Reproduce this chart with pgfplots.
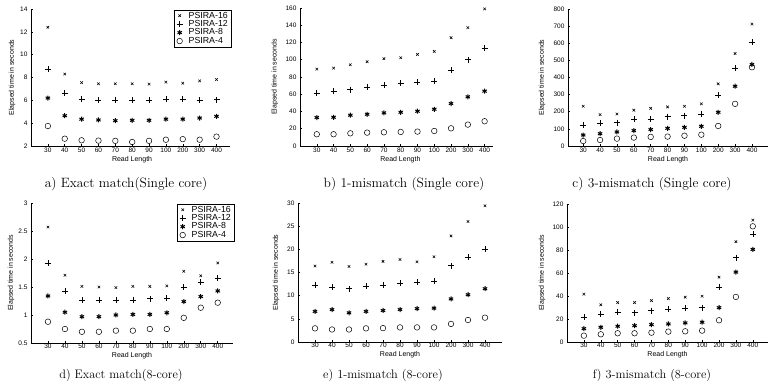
\documentclass[border=0pt]{standalone}
\usepackage{fontspec}
\usepackage{pgfplots}
\pgfplotsset{compat=1.18}
\newfontfamily\arial{Liberation Sans}
\pgfplotsset{
  panel/.style={
    scale only axis, anchor=south west,
    axis x line=bottom, axis y line=left,
    axis line style={-, line width=0.5pt},
    every outer x axis line/.append style={-},
    every outer y axis line/.append style={-},
    tick align=inside, major tick length=2pt,
    tick style={black, line width=0.5pt},
    xtick={1,...,11},
    xticklabels={30,40,50,60,70,80,90,100,200,300,400},
    xmin=0,
    tick label style={font=\arial\fontsize{6.5}{7}\selectfont},
    /pgf/number format/assume math mode=true,
    label style={font=\arial\fontsize{7}{8}\selectfont},
    ylabel={Elapsed time in seconds},
    xlabel={Read Length},
    scaled y ticks=false, clip=false,
    legend cell align=left,
    legend style={draw=black, line width=0.4pt, font=\arial\fontsize{8.8}{9}\selectfont,
      inner xsep=2pt, inner ysep=1pt, row sep=-1.2pt, anchor=north east, at={(rel axis cs:1.005,0.995)},
      nodes={inner sep=1pt}},
  },
  row1/.style={xticklabel style={yshift=2pt},
    xlabel style={at={(axis description cs:#1,0)}, anchor=center, yshift=-13.5pt}},
  row2/.style={xticklabel style={yshift=2.5pt},
    xlabel style={at={(axis description cs:#1,0)}, anchor=center, yshift=-12.5pt}},
  s16/.style={only marks, mark=x, mark size=1.8pt, black, line width=0.55pt},
  s12/.style={only marks, mark=+, mark size=3pt, black, line width=0.6pt},
  s8/.style={only marks, mark=asterisk, mark size=2.5pt, black, line width=1pt},
  s4/.style={only marks, mark=o, mark size=2.8pt, black, line width=0.5pt},
}
\newcommand\legtxt[1]{\hspace{5pt}#1}
\begin{document}
\begin{tikzpicture}[x=1pt,y=1pt]
\useasboundingbox (0,0) rectangle (769,382);
% a) Exact match (Single core)
\begin{axis}[panel, row1=0.508, at={(31pt,236pt)}, width=199pt, height=137pt, xmax=11.8,
  ymin=2, ymax=14, ytick={2,4,...,14},
  ylabel style={at={(axis description cs:-0.095,0.5)}, anchor=center}]
\addplot[s16] coordinates {(1,12.4)(2,8.3)(3,7.55)(4,7.45)(5,7.45)(6,7.45)(7,7.42)(8,7.6)(9,7.5)(10,7.7)(11,7.82)};
\addplot[s12] coordinates {(1,8.73)(2,6.6)(3,6.1)(4,6.0)(5,6.0)(6,6.0)(7,6.0)(8,6.1)(9,6.1)(10,6.0)(11,6.05)};
\addplot[s8] coordinates {(1,6.2)(2,4.65)(3,4.35)(4,4.28)(5,4.22)(6,4.25)(7,4.25)(8,4.35)(9,4.35)(10,4.45)(11,4.6)};
\addplot[s4] coordinates {(1,3.75)(2,2.64)(3,2.5)(4,2.47)(5,2.45)(6,2.35)(7,2.45)(8,2.55)(9,2.6)(10,2.55)(11,2.82)};
\legend{\legtxt{PSIRA-16},\legtxt{PSIRA-12},\legtxt{PSIRA-8},\legtxt{PSIRA-4}}
\end{axis}
% b) 1-mismatch (Single core)
\begin{axis}[panel, row1=0.52, at={(300pt,236pt)}, width=193pt, height=138pt, xmax=11.5,
  ymin=0, ymax=160, ytick={0,20,...,160},
  ylabel style={at={(axis description cs:-0.13,0.5)}, anchor=center}]
\addplot[s16] coordinates {(1,89.1)(2,90.3)(3,94.2)(4,97.7)(5,101.2)(6,102.3)(7,106.2)(8,109.7)(9,125.6)(10,137.2)(11,158.9)};
\addplot[s12] coordinates {(1,61)(2,63.2)(3,65.5)(4,68.2)(5,70.2)(6,72.5)(7,74)(8,75.2)(9,87.6)(10,100)(11,113.2)};
\addplot[s8] coordinates {(1,33)(2,33.3)(3,35.7)(4,36.8)(5,38.4)(6,39.1)(7,40.3)(8,42.6)(9,49.2)(10,57)(11,63.6)};
\addplot[s4] coordinates {(1,13.6)(2,13.6)(3,14.7)(4,15.5)(5,15.9)(6,16.3)(7,16.7)(8,17.4)(9,20.5)(10,24.8)(11,28.7)};
\end{axis}
% c) 3-mismatch (Single core)
\begin{axis}[panel, row1=0.5, at={(568pt,236pt)}, width=200pt, height=137pt, xmin=0.1, xmax=11.95,
  ymin=0, ymax=800, ytick={0,100,...,800},
  ylabel style={at={(axis description cs:-0.13,0.5)}, anchor=center}]
\addplot[s16] coordinates {(1,232)(2,183)(3,187)(4,209)(5,220)(6,228)(7,232)(8,246)(9,363)(10,540)(11,712)};
\addplot[s12] coordinates {(1,121)(2,133)(3,137)(4,158)(5,158)(6,172)(7,178)(8,187)(9,295)(10,453)(11,605)};
\addplot[s8] coordinates {(1,64)(2,72)(3,82)(4,90)(5,96)(6,103)(7,109)(8,115)(9,197)(10,349)(11,476)};
\addplot[s4] coordinates {(1,29)(2,35)(3,43)(4,49)(5,53)(6,55)(7,60)(8,66)(9,117)(10,246)(11,460)};
\end{axis}
% d) Exact match (8-core)
\begin{axis}[panel, row2=0.5, at={(31pt,39pt)}, width=202pt, height=140pt, xmax=11.9,
  ymin=0.5, ymax=3, ytick={0.5,1,1.5,2,2.5,3},
  ylabel style={at={(axis description cs:-0.099,0.5)}, anchor=center}]
\addplot[s16] coordinates {(1,2.57)(2,1.71)(3,1.51)(4,1.5)(5,1.49)(6,1.51)(7,1.51)(8,1.52)(9,1.78)(10,1.70)(11,1.93)};
\addplot[s12] coordinates {(1,1.92)(2,1.43)(3,1.26)(4,1.26)(5,1.26)(6,1.27)(7,1.29)(8,1.30)(9,1.5)(10,1.59)(11,1.66)};
\addplot[s8] coordinates {(1,1.34)(2,1.05)(3,0.97)(4,0.97)(5,1.0)(6,1.01)(7,1.01)(8,1.04)(9,1.24)(10,1.33)(11,1.43)};
\addplot[s4] coordinates {(1,0.88)(2,0.75)(3,0.7)(4,0.7)(5,0.72)(6,0.72)(7,0.75)(8,0.75)(9,0.95)(10,1.13)(11,1.22)};
\legend{\legtxt{PSIRA-16},\legtxt{PSIRA-12},\legtxt{PSIRA-8},\legtxt{PSIRA-4}}
\end{axis}
% e) 1-mismatch (8-core)
\begin{axis}[panel, row2=0.5, at={(298pt,40pt)}, width=204pt, height=139pt, xmax=12,
  ymin=0, ymax=30, ytick={0,5,...,30},
  ylabel style={at={(axis description cs:-0.108,0.5)}, anchor=center}]
\addplot[s16] coordinates {(1,16.4)(2,17.2)(3,16.3)(4,16.8)(5,17.4)(6,17.8)(7,17.3)(8,18.4)(9,22.9)(10,26.0)(11,29.4)};
\addplot[s12] coordinates {(1,12.2)(2,11.9)(3,11.5)(4,12.0)(5,12.2)(6,12.7)(7,12.9)(8,13.1)(9,16.5)(10,18.3)(11,20.1)};
\addplot[s8] coordinates {(1,6.6)(2,7.0)(3,6.3)(4,6.6)(5,6.8)(6,7.0)(7,7.2)(8,7.3)(9,9.3)(10,10.2)(11,11.5)};
\addplot[s4] coordinates {(1,2.95)(2,2.7)(3,2.7)(4,2.95)(5,3.0)(6,3.15)(7,3.15)(8,3.15)(9,3.9)(10,4.75)(11,5.25)};
\end{axis}
% f) 3-mismatch (8-core)
\begin{axis}[panel, row2=0.5, at={(567pt,40pt)}, width=201pt, height=138pt, xmax=11.9,
  ymin=0, ymax=120, ytick={0,20,...,120},
  ylabel style={at={(axis description cs:-0.124,0.5)}, anchor=center}]
\addplot[s16] coordinates {(1,41.6)(2,32.3)(3,34.3)(4,34.3)(5,36)(6,37.8)(7,39)(8,39.8)(9,56.4)(10,87.2)(11,106)};
\addplot[s12] coordinates {(1,21.8)(2,24.1)(3,26.2)(4,25.6)(5,27.3)(6,28.8)(7,29.4)(8,29.9)(9,47.4)(10,73.3)(11,93.6)};
\addplot[s8] coordinates {(1,11.6)(2,12.8)(3,13.7)(4,14.2)(5,15.1)(6,15.7)(7,16.6)(8,17.2)(9,29.9)(10,60.8)(11,80.5)};
\addplot[s4] coordinates {(1,5.5)(2,6.7)(3,7.6)(4,7.6)(5,8.1)(6,9.0)(7,9.3)(8,9.9)(9,18.9)(10,39.2)(11,100.6)};
\end{axis}
% captions
\node[anchor=base, font=\fontsize{13.5}{15}\selectfont] at (126,194) {a) Exact match(Single core)};
\node[anchor=base, font=\fontsize{13.5}{15}\selectfont] at (404,194) {b) 1-mismatch (Single core)};
\node[anchor=base, font=\fontsize{13.5}{15}\selectfont] at (652,194) {c) 3-mismatch (Single core)};
\node[anchor=base, font=\fontsize{12.3}{14}\selectfont] at (121,3) {d) Exact match(8-core)};
\node[anchor=base, font=\fontsize{12.3}{14}\selectfont] at (383,3) {e) 1-mismatch (8-core)};
\node[anchor=base, font=\fontsize{12.3}{14}\selectfont] at (652,3) {f) 3-mismatch (8-core)};
\end{tikzpicture}
\end{document}
